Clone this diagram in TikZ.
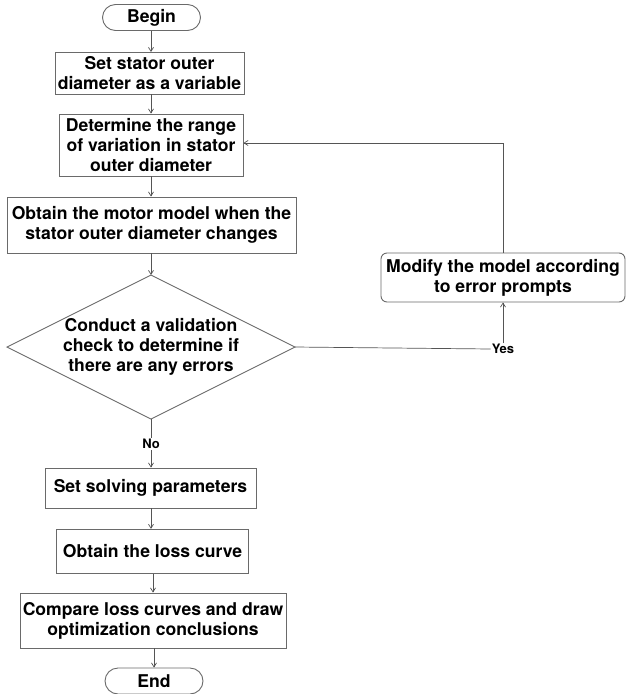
\documentclass[tikz,border=0pt]{standalone}
\usepackage{fontspec}
\setmainfont{TeX Gyre Heros}
\usetikzlibrary{arrows.meta}
\definecolor{edgegray}{HTML}{6A6A6A}
\definecolor{linegray}{HTML}{555555}
\tikzset{
  stepbox/.style={draw=edgegray, line width=0.9pt, fill=white, align=center, inner sep=0pt,
    font=\fontsize{17.6}{20}\selectfont\bfseries},
  termbox/.style={stepbox, rounded corners=13pt},
  modbox/.style={stepbox, rounded corners=6pt},
  lbl/.style={inner sep=1pt, font=\fontsize{13}{15}\selectfont\bfseries},
  arr/.style={draw=linegray, line width=0.7pt, -{Straight Barb[length=4pt,width=5pt]}},
  plain/.style={draw=linegray, line width=0.7pt},
}
\begin{document}
\begin{tikzpicture}[x=1pt,y=-1pt]
\useasboundingbox (0,0) rectangle (627,694);
\node[termbox, minimum width=98pt, minimum height=26pt] (begin) at (151.5,17.5) {Begin};
\node[stepbox, minimum width=189pt, minimum height=42pt] (b1) at (149.5,73) {Set stator outer\\diameter as a variable};
\node[stepbox, minimum width=184pt, minimum height=62pt] (b2) at (151,145) {Determine the range\\of variation in stator\\outer diameter};
\node[stepbox, minimum width=289pt, minimum height=56pt] (b3) at (151.5,225) {Obtain the motor model when the\\stator outer diameter changes};
% decision diamond
\coordinate (dT) at (151,275);
\coordinate (dR) at (295,347);
\coordinate (dB) at (151,419);
\coordinate (dL) at (7,347);
\draw[draw=edgegray, line width=0.9pt] (dT) -- (dR) -- (dB) -- (dL) -- cycle;
\node[align=center, inner sep=0pt, font=\fontsize{17.6}{20}\selectfont\bfseries] (dtext) at (151,347) {Conduct a validation\\check to determine if\\there are any errors};
\node[modbox, minimum width=244pt, minimum height=49pt] (mod) at (503,277.5) {Modify the model according\\to error prompts};
\node[lbl] (yes) at (503,349) {Yes};
\node[lbl] (no) at (151,444) {No};
\node[stepbox, minimum width=211pt, minimum height=40pt] (b4) at (150.5,488) {Set solving parameters};
\node[stepbox, minimum width=192pt, minimum height=44pt] (b5) at (152.5,551.3) {Obtain the loss curve};
\node[stepbox, minimum width=266pt, minimum height=55pt] (b6) at (153,620.5) {Compare loss curves and draw\\optimization conclusions};
\node[termbox, minimum width=98pt, minimum height=26pt] (end) at (154,681) {End};
% connectors
\draw[arr] (151,30.5) -- (151,52);
\draw[arr] (b1.south -| 151,0) -- (b2.north -| 151,0);
\draw[arr] (b2.south -| 151,0) -- (b3.north -| 151,0);
\draw[arr] (b3.south -| dT) -- (dT);
\draw[plain] (dB) -- (no.north);
\draw[arr] (no.south) -- (b4.north -| no);
\draw[arr] (b4.south -| 151,0) -- (b5.north -| 151,0);
\draw[arr] (b5.south -| 153,0) -- (b6.north -| 153,0);
\draw[arr] (b6.south -| 154,0) -- (end.north);
\draw[plain] (dR) -- (yes.west);
\draw[arr] (yes.north -| mod) -- (mod.south);
\draw[arr] (mod.north) |- (b2.east |- 0,143);
\end{tikzpicture}
\end{document}
